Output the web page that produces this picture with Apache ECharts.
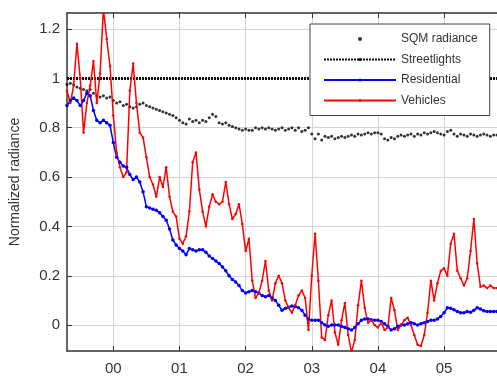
<!DOCTYPE html>
<html>
<head>
<meta charset="utf-8">
<script src="https://cdn.jsdelivr.net/npm/echarts@6/dist/echarts.min.js"></script>
<style>
  * { margin: 0; padding: 0; }
  body { background: #fff; }
</style>
</head>
<body>
<div id="main" style="width: 497px;height: 376px;"></div>
<script>
// time in hours after midnight, one sample every 3 minutes
var t0 = -0.7, dt = 0.05;
var hourTicks = [0, 1, 2, 3, 4, 5];
var hourLabels = ['00', '01', '02', '03', '04', '05'];
var radianceTicks = [0, 0.2, 0.4, 0.6, 0.8, 1, 1.2];

var sqm = [
  0.975, 0.98, 0.975, 0.965, 0.96, 0.955, 0.95, 0.955, 0.94, 0.93,
  0.925, 0.93, 0.92, 0.925, 0.91, 0.90, 0.905, 0.89, 0.895, 0.885,
  0.88, 0.885, 0.895, 0.9, 0.89, 0.885, 0.88, 0.875, 0.87, 0.865,
  0.86, 0.855, 0.85, 0.84, 0.83, 0.82, 0.815, 0.835, 0.825, 0.83,
  0.82, 0.83, 0.825, 0.84, 0.855, 0.845, 0.82, 0.815, 0.82, 0.81,
  0.805, 0.80, 0.795, 0.79, 0.795, 0.79, 0.79, 0.80, 0.795, 0.80,
  0.795, 0.80, 0.795, 0.79, 0.795, 0.80, 0.79, 0.795, 0.80, 0.79,
  0.80, 0.785, 0.79, 0.80, 0.775, 0.755, 0.775, 0.75, 0.765, 0.76,
  0.765, 0.755, 0.76, 0.765, 0.76, 0.765, 0.77, 0.765, 0.775, 0.77,
  0.775, 0.78, 0.775, 0.78, 0.78, 0.775, 0.755, 0.75, 0.76, 0.755,
  0.765, 0.77, 0.765, 0.77, 0.775, 0.765, 0.775, 0.77, 0.78, 0.775,
  0.78, 0.785, 0.78, 0.775, 0.77, 0.785, 0.79, 0.775, 0.765, 0.775,
  0.77, 0.765, 0.775, 0.77, 0.765, 0.77, 0.775, 0.77, 0.765, 0.77,
  0.77
];
var streetTimes = [-0.7, 5.8];
var streetlights = [1, 1];
var residential = [
  0.89, 0.91, 0.92, 0.91, 0.89, 0.91, 0.94, 0.93, 0.87, 0.83,
  0.82, 0.83, 0.82, 0.81, 0.74, 0.68, 0.66, 0.645, 0.64, 0.61,
  0.59, 0.6, 0.58, 0.54, 0.48, 0.475, 0.47, 0.465, 0.455, 0.44,
  0.425, 0.39, 0.345, 0.325, 0.31, 0.30, 0.285, 0.31, 0.305, 0.30,
  0.305, 0.305, 0.295, 0.28, 0.27, 0.26, 0.25, 0.235, 0.22, 0.20,
  0.185, 0.175, 0.16, 0.14, 0.13, 0.135, 0.14, 0.135, 0.13, 0.12,
  0.115, 0.12, 0.11, 0.10, 0.08, 0.06, 0.068, 0.072, 0.077, 0.075,
  0.07, 0.06, 0.04, 0.025, 0.02, 0.02, 0.02, 0.01, 0.0, -0.005,
  0.0, 0.0, 0.0, -0.005, -0.01, -0.015, -0.02, -0.01, 0.005, 0.02,
  0.025, 0.025, 0.022, 0.02, 0.02, 0.015, 0.005, -0.005, -0.02, -0.015,
  -0.005, 0.0, 0.0, 0.005, 0.01, 0.005, 0.0, 0.005, 0.01, 0.015,
  0.02, 0.02, 0.025, 0.035, 0.05, 0.07, 0.068, 0.062, 0.055, 0.05,
  0.05, 0.055, 0.052, 0.06, 0.07, 0.065, 0.058, 0.055, 0.055, 0.055,
  0.055
];
var vehicles = [
  0.95, 0.9, 0.97, 1.14, 1.0, 0.78, 0.9, 0.97, 1.07, 0.9,
  1.02, 1.28, 1.16, 1.05, 0.85, 0.7, 0.64, 0.6, 0.62, 0.95,
  1.06, 0.9, 0.78, 0.76, 0.68, 0.6, 0.57, 0.52, 0.6, 0.56,
  0.64, 0.52, 0.46, 0.44, 0.35, 0.33, 0.36, 0.46, 0.66, 0.7,
  0.55, 0.46, 0.4, 0.48, 0.53, 0.5, 0.49, 0.5, 0.58, 0.49,
  0.43, 0.45, 0.49, 0.41, 0.3, 0.35, 0.18, 0.11, 0.13, 0.18,
  0.26, 0.14, 0.1, 0.17, 0.2, 0.17, 0.1, 0.07, 0.05, 0.08,
  0.12, 0.14, 0.11, -0.02, 0.2, 0.37, 0.18, -0.05, -0.06, 0.04,
  0.1, -0.03, -0.08, 0.02, 0.09, -0.04, -0.11, -0.06, 0.08, 0.18,
  0.07, 0.01, 0.02, 0.0, -0.01, 0.01, -0.02, -0.01, 0.11, 0.06,
  -0.02, 0.0, 0.02, 0.03, 0.0, -0.04, -0.08, -0.085, -0.04, 0.05,
  0.18, 0.1, 0.17, 0.22, 0.23, 0.2, 0.33, 0.37, 0.22, 0.19,
  0.16, 0.19, 0.3, 0.43, 0.25, 0.155, 0.16, 0.15, 0.16, 0.15,
  0.15
];

function pairs(vals, start, step) {
  return vals.map(function (v, i) {
    return [+(start + i * step).toFixed(3), v];
  });
}

var font = 'Arial, "Liberation Sans", sans-serif';
var chart = echarts.init(document.getElementById('main'));
chart.setOption({
  animation: false,
  grid: { left: 63, top: 13, width: 447, height: 341 },
  legend: {
    orient: 'vertical',
    left: 310,
    top: 24,
    padding: [9, 12, 9, 13],
    itemWidth: 72,
    itemHeight: 4,
    itemGap: 8.5,
    backgroundColor: '#fff',
    borderColor: '#444',
    borderWidth: 1,
    textStyle: { fontFamily: font, fontSize: 12, color: '#333' },
    data: ['SQM radiance', 'Streetlights', 'Residential', 'Vehicles']
  },
  xAxis: [{
    type: 'value',
    min: -0.7,
    max: 5.8,
    axisLine: { onZero: false, lineStyle: { color: '#333', width: 1.5 } },
    axisTick: { inside: true, length: 5, customValues: hourTicks, lineStyle: { color: '#333' } },
    axisLabel: {
      customValues: hourTicks,
      margin: 10,
      fontFamily: font,
      fontSize: 15,
      color: '#333',
      formatter: function (v) { return hourLabels[hourTicks.indexOf(Math.round(v))]; }
    },
    splitLine: { show: true, lineStyle: { color: '#d4d4d4' } }
  }, {
    type: 'value',
    position: 'top',
    min: -0.7,
    max: 5.8,
    axisLine: { onZero: false, lineStyle: { color: '#333', width: 1.5 } },
    axisTick: { inside: true, length: 5, customValues: hourTicks, lineStyle: { color: '#333' } },
    axisLabel: { show: false },
    splitLine: { show: false }
  }],
  yAxis: {
    type: 'value',
    min: -0.105,
    max: 1.265,
    name: 'Normalized radiance',
    nameLocation: 'middle',
    nameGap: 45,
    nameTextStyle: { fontFamily: font, fontSize: 14, color: '#333' },
    axisLine: { show: true, onZero: false, lineStyle: { color: '#333', width: 1.5 } },
    axisTick: { show: true, inside: true, length: 5, customValues: radianceTicks, lineStyle: { color: '#333' } },
    axisLabel: {
      customValues: radianceTicks,
      margin: 7,
      fontFamily: font,
      fontSize: 15,
      color: '#333'
    },
    splitLine: { show: true, lineStyle: { color: '#d4d4d4' } }
  },
  series: [
    {
      name: 'Streetlights',
      type: 'line',
      data: streetTimes.map(function (t, i) { return [t, streetlights[i]]; }),
      symbol: 'none',
      color: '#111',
      lineStyle: { color: '#111', width: 3, type: [2, 1] }
    },
    {
      name: 'SQM radiance',
      type: 'scatter',
      data: pairs(sqm, t0, dt),
      symbolSize: 3,
      itemStyle: { color: '#000' }
    },
    {
      name: 'Residential',
      type: 'line',
      data: pairs(residential, t0, dt),
      symbol: 'circle',
      symbolSize: 3.5,
      color: '#0000ff',
      lineStyle: { color: '#0000ff', width: 1.5 },
      itemStyle: { color: '#0000ff' }
    },
    {
      name: 'Vehicles',
      type: 'line',
      data: pairs(vehicles, t0, dt),
      symbol: 'circle',
      symbolSize: 2.5,
      color: '#ff0000',
      lineStyle: { color: '#ff0000', width: 1.5 },
      itemStyle: { color: '#ff0000' }
    }
  ]
});
</script>
</body>
</html>
